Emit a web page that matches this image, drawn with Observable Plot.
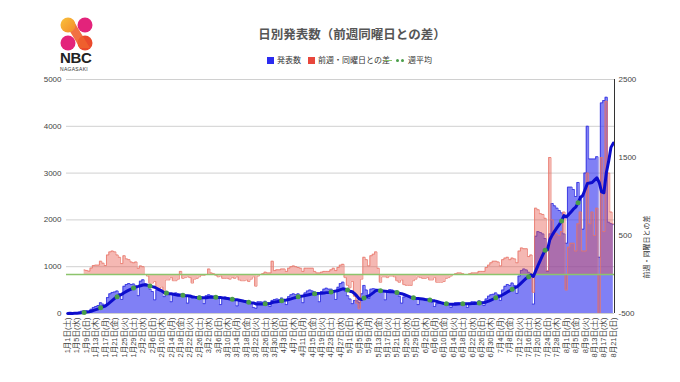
<!DOCTYPE html>
<html><head><meta charset="utf-8">
<script src="https://cdn.jsdelivr.net/npm/d3@7"></script>
<script src="https://cdn.jsdelivr.net/npm/@observablehq/plot@0.6"></script>
<style>
body{margin:0;background:#fff;font-family:"Liberation Sans",Arial,"Noto Sans CJK JP",sans-serif;}
#wrap{position:relative;width:680px;height:382px;overflow:hidden;}
#chart{position:absolute;left:0;top:0;}
.abs{position:absolute;white-space:nowrap;}
.title{left:352px;top:26px;transform:translateX(-50%);font-size:12.5px;line-height:15px;font-weight:bold;color:#555;font-family:"Noto Sans CJK JP",sans-serif;}
.lg{top:55px;font-size:8px;line-height:10px;color:#333;font-family:"Noto Sans CJK JP",sans-serif;}
.sw{top:56.5px;width:7px;height:7px;}
</style></head>
<body>
<div id="wrap">
  <div id="chart"></div>
  <svg class="abs" style="left:59px;top:16px" width="36" height="36" viewBox="0 0 36 36">
    <defs><linearGradient id="gy" x1="0" y1="0" x2="1" y2="1"><stop offset="0" stop-color="#f9c23c"/><stop offset="1" stop-color="#f38a2a"/></linearGradient></defs>
    <circle cx="26" cy="9" r="7.5" fill="#e3237b"/>
    <circle cx="9" cy="27" r="7.5" fill="#e3237b"/>
    <circle cx="26" cy="27" r="7.5" fill="#ea4a2c"/>
    <polygon points="4,4 14,4 31,32 21,32" fill="#f0622e" opacity="0.9"/>
    <circle cx="9" cy="9" r="7.5" fill="url(#gy)"/>
  </svg>
  <div class="abs" style="left:60px;top:50px;font-size:15px;line-height:16px;font-weight:bold;color:#222;letter-spacing:-0.3px;font-family:'Liberation Sans',Arial,sans-serif">NBC</div>
  <div class="abs" style="left:60px;top:66px;font-size:5px;line-height:6px;color:#333;letter-spacing:0.3px;font-family:'Liberation Sans',Arial,sans-serif">NAGASAKI</div>
  <div class="abs title">日別発表数（前週同曜日との差）</div>
  <div class="abs sw" style="left:267px;background:#2b2bf0"></div>
  <div class="abs lg" style="left:277px">発表数</div>
  <div class="abs sw" style="left:308px;background:#e8473c"></div>
  <div class="abs lg" style="left:318px">前週・同曜日との差</div>
  <div class="abs" style="left:384px;top:59.5px;width:8px;height:1.5px;background:#8cc46c"></div>
  <div class="abs" style="left:396px;top:58.5px;width:3px;height:3px;border-radius:50%;background:#4a9e4a"></div>
  <div class="abs" style="left:401px;top:58.5px;width:3px;height:3px;border-radius:50%;background:#4a9e4a"></div>
  <div class="abs lg" style="left:408px">週平均</div>
</div>
<script>
// 発表数 (daily reported cases), Jan 1 – Aug 21
const counts = [
2,3,2,8,15,30,50,
60,55,45,90,130,150,170,
230,200,160,340,420,450,460,
480,420,300,580,620,640,620,
630,580,380,690,720,640,600,
520,470,290,500,520,480,360,
450,400,250,420,440,420,400,
400,360,220,380,330,360,350,
370,350,210,380,400,380,360,
360,320,190,330,350,330,300,
320,270,160,260,270,250,230,
230,210,130,110,250,250,240,
260,230,150,280,300,310,300,
330,300,190,360,400,420,400,
420,380,230,440,480,500,480,
460,400,250,470,520,540,520,
520,480,300,560,640,670,480,
380,310,210,280,270,230,420,
600,500,320,520,530,520,500,
500,470,290,480,510,500,470,
420,370,220,350,370,360,330,
340,310,190,310,320,310,290,
270,240,150,210,220,210,200,
220,200,130,210,230,230,220,
230,200,130,220,250,250,240,
270,240,170,310,370,400,410,
440,400,280,500,580,620,600,
650,600,430,800,920,950,930,
880,850,200,1650,1750,1730,1700,
1600,900,1700,2350,2300,2250,2200,
2150,1700,1500,2700,2700,2650,2500,
2800,2500,1800,3000,4000,3300,3300,
3300,3350,1200,4500,4550,4620,1950,
1920,1900];

// 前週・同曜日との差 (right axis), starting Jan 8
const diffStart = 7;
const diffs = [
58,52,43,82,115,120,120,
170,145,115,250,290,300,290,
250,220,140,240,200,190,160,
150,160,80,110,100,0,-20,
-110,-110,-90,-190,-200,-160,-240,
-70,-70,-40,-80,-80,-60,40,
-50,-40,-30,-40,-110,-60,-50,
-30,-10,-10,0,70,20,10,
-10,-30,-20,-50,-50,-50,-60,
-40,-50,-30,-70,-80,-80,-70,
-90,-60,-30,-150,-20,0,10,
30,20,20,170,50,60,60,
70,70,40,80,100,110,100,
90,80,40,80,80,80,80,
40,20,20,30,40,40,40,
60,80,50,90,120,130,-40,
-140,-170,-90,-280,-370,-440,-60,
220,190,110,240,260,290,80,
-100,-30,-30,-40,-20,-20,-30,
-80,-100,-70,-130,-140,-140,-140,
-80,-60,-30,-40,-50,-50,-40,
-70,-70,-40,-100,-100,-100,-90,
-50,-40,-20,0,10,20,20,
10,0,0,10,20,20,20,
40,40,40,90,120,150,170,
170,160,110,190,210,220,190,
210,200,150,300,340,330,330,
230,250,-230,850,830,780,770,
720,50,1500,700,550,520,500,
550,800,-200,350,400,400,300,
650,800,300,300,1300,650,800,
500,850,-600,1500,550,2220,1300,
800,650];

// 週平均 (weekly average line)
const weeklyAvg = [
2,3,2,4,6,10,16,
24,31,38,49,66,83,100,
124,145,161,197,239,281,323,
359,390,410,444,473,500,523,
544,567,579,594,609,609,606,
590,574,561,534,506,483,449,
439,429,423,411,400,391,397,
390,384,380,374,359,350,343,
339,337,336,336,346,349,350,
349,344,341,334,327,320,311,
306,299,294,284,273,261,251,
239,230,226,204,201,201,203,
207,210,213,237,244,253,261,
271,281,287,299,313,329,343,
356,367,373,384,396,407,419,
424,427,430,434,440,446,451,
460,471,479,491,509,527,521,
501,477,464,424,371,309,300,
331,359,374,409,446,487,499,
484,480,476,470,467,464,460,
449,434,424,406,386,366,346,
334,326,321,316,309,301,296,
286,276,270,256,241,227,214,
207,201,199,199,200,203,206,
207,207,207,209,211,214,217,
223,229,234,247,264,286,310,
334,357,373,400,430,461,489,
519,547,569,611,660,707,754,
787,823,790,911,1030,1141,1251,
1354,1361,1576,1676,1754,1829,1900,
1979,2093,2064,2114,2171,2229,2271,
2364,2479,2521,2650,2780,2790,2800,
2850,2900,2800,2600,2580,3000,3250,
3550,3640];
const markerDays = [7,14,21,28,35,42,49,56,63,70,77,84,91,98,105,112,119,126,133,140,147,154,161,168,175,182,189,196,203,210,217];

const tickLabels = [
"1月1日(土)","1月5日(水)","1月9日(日)","1月13日(木)","1月17日(月)","1月21日(金)","1月25日(火)","1月29日(土)",
"2月2日(水)","2月6日(日)","2月10日(木)","2月14日(月)","2月18日(金)","2月22日(火)","2月26日(土)",
"3月2日(水)","3月6日(日)","3月10日(木)","3月14日(月)","3月18日(金)","3月22日(火)","3月26日(土)","3月30日(水)",
"4月3日(日)","4月7日(木)","4月11日(月)","4月15日(金)","4月19日(火)","4月23日(土)","4月27日(水)",
"5月1日(日)","5月5日(木)","5月9日(月)","5月13日(金)","5月17日(火)","5月21日(土)","5月25日(水)","5月29日(日)",
"6月2日(木)","6月6日(月)","6月10日(金)","6月14日(火)","6月18日(土)","6月22日(水)","6月26日(日)","6月30日(木)",
"7月4日(月)","7月8日(金)","7月12日(火)","7月16日(土)","7月20日(水)","7月24日(日)","7月28日(木)",
"8月1日(月)","8月5日(金)","8月9日(火)","8月13日(土)","8月17日(水)","8月21日(日)"];
const leftTicks = [0,1000,2000,3000,4000,5000];
const rightTicks = [-500,500,1500,2500];
const rightMin = -500, rightMax = 2500, leftMax = 5000;

const toLeft = d => (d - rightMin) * leftMax / (rightMax - rightMin);
const fromLeft = v => v * (rightMax - rightMin) / leftMax + rightMin;

const countData = counts.map((v, i) => ({i, v}));
const diffData = diffs.map((d, k) => ({i: k + diffStart, d}));
const avgData = weeklyAvg.map((a, i) => ({i, a}));
const dotData = markerDays.map(i => ({i, a: weeklyAvg[i]}));
const tickIdx = tickLabels.map((_, k) => k * 4);
const FONT = '"Liberation Sans", Arial, "Noto Sans CJK JP", sans-serif';

const chart = Plot.plot({
  width: 680, height: 382,
  marginTop: 79, marginBottom: 69, marginLeft: 66, marginRight: 66,
  x: {type: "linear", domain: [-0.5, counts.length - 0.5]},
  y: {domain: [0, leftMax]},
  style: {fontFamily: FONT, fontSize: "8px", color: "#444", background: "transparent", overflow: "visible"},
  marks: [
    Plot.gridY(leftTicks, {stroke: "#d0d0d0", strokeOpacity: 1}),
    Plot.areaY(countData, {x: "i", y: "v", curve: "step", fill: "#3c3cf0", fillOpacity: 0.65}),
    Plot.lineY(countData, {x: "i", y: "v", curve: "step", stroke: "#3030e0", strokeWidth: 0.8}),
    Plot.areaY(diffData, {x: "i", y1: () => toLeft(0), y2: d => toLeft(d.d), curve: "step", fill: "#e8564a", fillOpacity: 0.42, clip: true}),
    Plot.lineY(diffData, {x: "i", y: d => toLeft(d.d), curve: "step", stroke: "#e8776b", strokeWidth: 0.8, clip: true}),
    Plot.ruleY([toLeft(0)], {stroke: "#8cc46c", strokeWidth: 1.3}),
    Plot.lineY(avgData, {x: "i", y: "a", stroke: "#0d0dcc", strokeWidth: 3, strokeLinejoin: "round"}),
    Plot.dot(dotData, {x: "i", y: "a", r: 2.5, fill: "#4a9e4a"}),
    Plot.ruleX([counts.length - 0.5], {stroke: "#333", strokeWidth: 1}),
    Plot.axisY(leftTicks, {tickFormat: d => String(d), tickSize: 0, tickPadding: 5, fontSize: 8, label: null}),
    Plot.axisY(rightTicks.map(toLeft), {anchor: "right", tickFormat: v => String(Math.round(fromLeft(v))), tickSize: 0, tickPadding: 4, fontSize: 8, label: null}),
    Plot.axisX(tickIdx, {tickFormat: d => tickLabels[Math.round(d / 4)], tickRotate: -90, tickSize: 0, tickPadding: 4, fontSize: 7.5, label: null}),
    Plot.text(["前週・同曜日との差"], {text: d => d, frameAnchor: "right", dx: 32, dy: 19, rotate: -90, fontSize: 7, fill: "#333"})
  ]
});
document.getElementById("chart").appendChild(chart);
</script>
</body></html>
